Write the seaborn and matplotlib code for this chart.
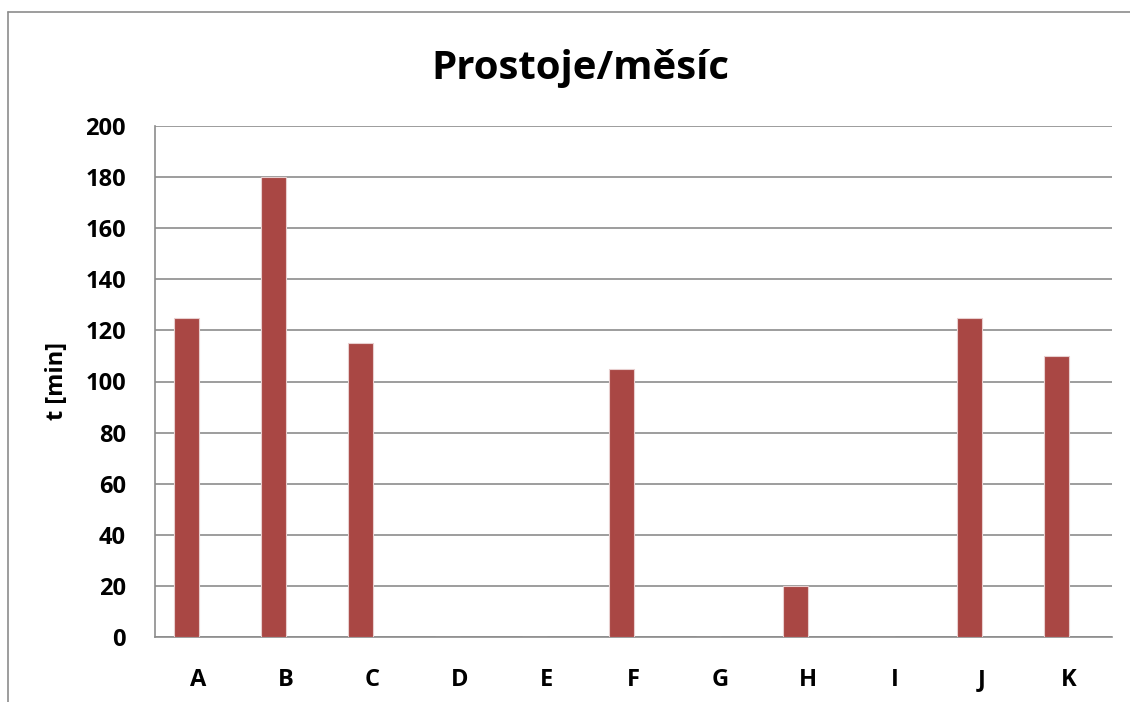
import matplotlib
matplotlib.use("Agg")
import matplotlib.pyplot as plt
import seaborn as sns
import pandas as pd
import numpy as np
from matplotlib.lines import Line2D

# data
kategorie = ['A', 'B', 'C', 'D', 'E', 'F', 'G', 'H', 'I', 'J', 'K']
prostoje = [125, 180, 115, 0, 0, 105, 0, 20, 0, 125, 110]

# druha (prazdna) rada jako v Excelu -> sloupce jsou posunute doleva
df = pd.DataFrame({'kat': kategorie * 2,
                   't': prostoje + [np.nan] * len(kategorie),
                   'rada': ['t'] * len(kategorie) + ['x'] * len(kategorie)})

sns.set_style('white')
plt.rcParams['font.family'] = ['Open Sans', 'DejaVu Sans']
plt.rcParams['text.color'] = 'black'
plt.rcParams['xtick.labelcolor'] = 'black'
plt.rcParams['ytick.labelcolor'] = 'black'
plt.rcParams['axes.labelcolor'] = 'black'

fig = plt.figure(figsize=(11.3, 7.02), dpi=100)
ax = fig.add_axes([155 / 1130, 1 - 637 / 702, (1112 - 155) / 1130, (637 - 126) / 702])

sns.barplot(data=df, x='kat', y='t', hue='rada', palette=['#A94744', '#A94744'],
            saturation=1, width=0.56, gap=0, edgecolor='#E8CFCF', linewidth=0.8,
            legend=False, ax=ax, zorder=3)

ax.set_ylim(0, 200)
ax.set_yticks(range(0, 201, 20))
ax.set_xlim(-0.5, len(kategorie) - 0.5)
ax.yaxis.grid(True, color='#8C8C8C', linewidth=1.2, zorder=0)
ax.set_axisbelow(True)

for s in ['top', 'right']:
    ax.spines[s].set_visible(False)
for s in ['left', 'bottom']:
    ax.spines[s].set_color('#8C8C8C')
    ax.spines[s].set_linewidth(1.2)

ax.tick_params(axis='y', length=5, color='#8C8C8C', width=1.2, labelsize=17, pad=16)
ax.tick_params(axis='x', length=0, labelsize=17, pad=22)
for lab in ax.get_xticklabels() + ax.get_yticklabels():
    lab.set_fontweight('bold')

ax.set_xlabel('')
ax.set_ylabel('t [min]', fontsize=17, fontweight='bold', labelpad=12)

fig.text(0.514, 1 - 68 / 702, 'Prostoje/měsíc', ha='center', va='center',
         fontsize=29, fontweight='bold')

# ramecek grafu (jen levy a horni okraj je videt)
fig.add_artist(Line2D([8 / 1130, 8 / 1130], [0, 1 - 12 / 702],
                      transform=fig.transFigure, color='#8C8C8C', linewidth=1.2))
fig.add_artist(Line2D([8 / 1130, 1], [1 - 12 / 702, 1 - 12 / 702],
                      transform=fig.transFigure, color='#8C8C8C', linewidth=1.2))

fig.savefig('out.png', dpi=100)
